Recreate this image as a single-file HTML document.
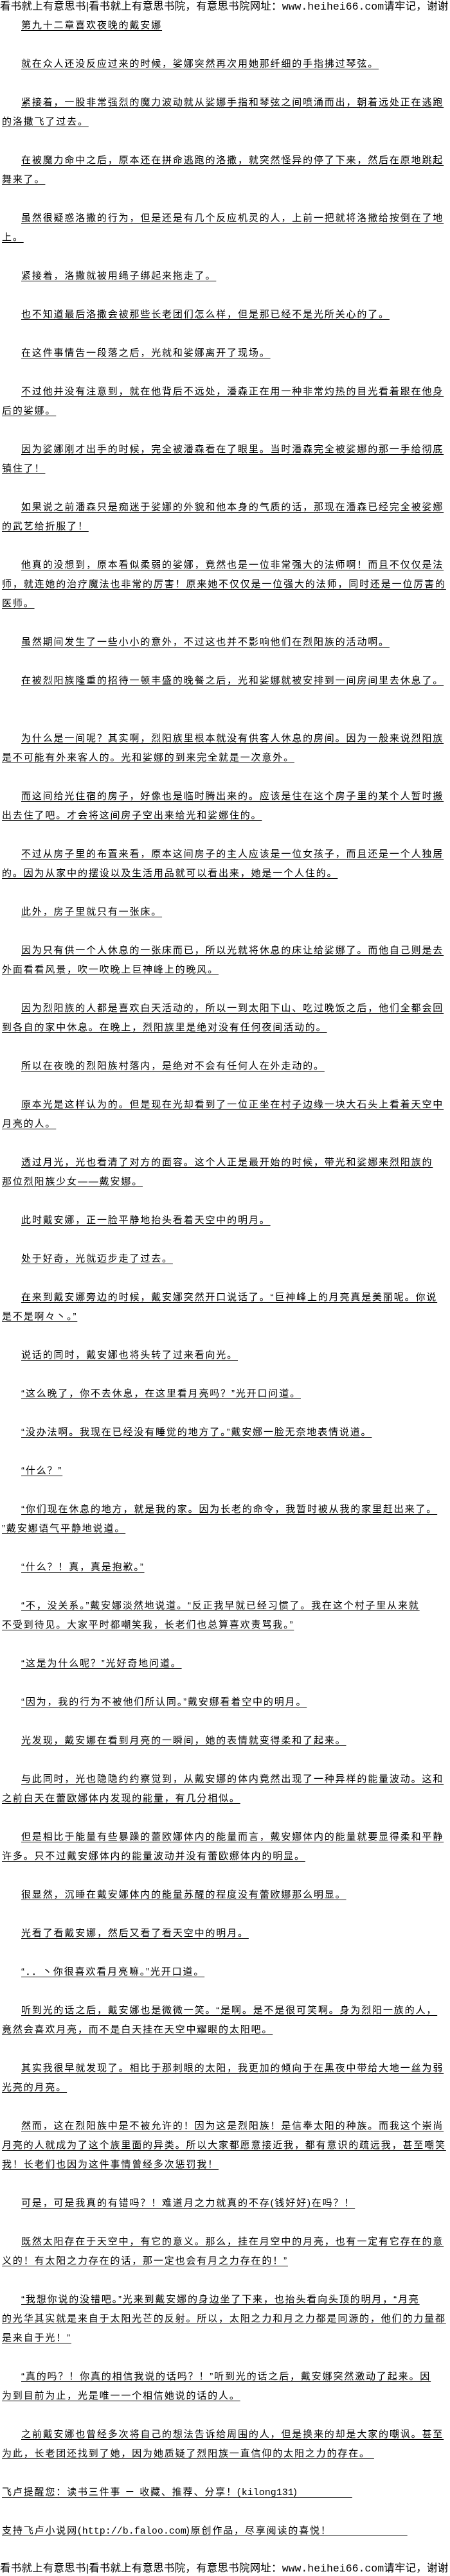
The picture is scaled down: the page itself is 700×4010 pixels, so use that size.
<!DOCTYPE html>
<html><head><meta charset="utf-8">
<style>
html,body{margin:0;padding:0;background:#fff;}
body{width:700px;height:4010px;position:relative;overflow:hidden;
font-family:"Liberation Sans","Noto Sans CJK SC","WenQuanYi Zen Hei",sans-serif;color:#000;}
.l{position:absolute;white-space:nowrap;font-size:15px;line-height:20px;letter-spacing:1.85px;}
.l span{text-decoration:underline;text-underline-offset:3px;text-decoration-thickness:1px;}
.i{left:33px}.c{left:3px}
.h{position:absolute;left:0;white-space:nowrap;font-size:16.5px;line-height:20px;width:700px;overflow:hidden;letter-spacing:0.2px;}
.m{font-family:"Liberation Mono",monospace;letter-spacing:0;}
</style></head><body>
<div class="h" style="top:0">看书就上有意思书|看书就上有意思书院，有意思书院网址：<span class="m">www.heihei66.com</span>请牢记，谢谢</div>
<div class="l i" style="top:30px"><span>第九十二章喜欢夜晚的戴安娜</span></div>
<div class="l i" style="top:90px"><span>就在众人还没反应过来的时候，娑娜突然再次用她那纤细的手指拂过琴弦。</span></div>
<div class="l i" style="top:150px"><span>紧接着，一股非常强烈的魔力波动就从娑娜手指和琴弦之间喷涌而出，朝着远处正在逃跑</span></div>
<div class="l c" style="top:180px"><span>的洛撒飞了过去。</span></div>
<div class="l i" style="top:240px"><span>在被魔力命中之后，原本还在拼命逃跑的洛撒，就突然怪异的停了下来，然后在原地跳起</span></div>
<div class="l c" style="top:270px"><span>舞来了。</span></div>
<div class="l i" style="top:330px"><span>虽然很疑惑洛撒的行为，但是还是有几个反应机灵的人，上前一把就将洛撒给按倒在了地</span></div>
<div class="l c" style="top:360px"><span>上。</span></div>
<div class="l i" style="top:420px"><span>紧接着，洛撒就被用绳子绑起来拖走了。</span></div>
<div class="l i" style="top:480px"><span>也不知道最后洛撒会被那些长老团们怎么样，但是那已经不是光所关心的了。</span></div>
<div class="l i" style="top:540px"><span>在这件事情告一段落之后，光就和娑娜离开了现场。</span></div>
<div class="l i" style="top:600px"><span>不过他并没有注意到，就在他背后不远处，潘森正在用一种非常灼热的目光看着跟在他身</span></div>
<div class="l c" style="top:630px"><span>后的娑娜。</span></div>
<div class="l i" style="top:690px"><span>因为娑娜刚才出手的时候，完全被潘森看在了眼里。当时潘森完全被娑娜的那一手给彻底</span></div>
<div class="l c" style="top:720px"><span>镇住了！</span></div>
<div class="l i" style="top:780px"><span>如果说之前潘森只是痴迷于娑娜的外貌和他本身的气质的话，那现在潘森已经完全被娑娜</span></div>
<div class="l c" style="top:810px"><span>的武艺给折服了！</span></div>
<div class="l i" style="top:870px"><span>他真的没想到，原本看似柔弱的娑娜，竟然也是一位非常强大的法师啊！而且不仅仅是法</span></div>
<div class="l c" style="top:900px"><span>师，就连她的治疗魔法也非常的厉害！原来她不仅仅是一位强大的法师，同时还是一位厉害的</span></div>
<div class="l c" style="top:930px"><span>医师。</span></div>
<div class="l i" style="top:990px"><span>虽然期间发生了一些小小的意外，不过这也并不影响他们在烈阳族的活动啊。</span></div>
<div class="l i" style="top:1050px"><span>在被烈阳族隆重的招待一顿丰盛的晚餐之后，光和娑娜就被安排到一间房间里去休息了。</span></div>
<div class="l i" style="top:1140px"><span>为什么是一间呢？其实啊，烈阳族里根本就没有供客人休息的房间。因为一般来说烈阳族</span></div>
<div class="l c" style="top:1170px"><span>是不可能有外来客人的。光和娑娜的到来完全就是一次意外。</span></div>
<div class="l i" style="top:1230px"><span>而这间给光住宿的房子，好像也是临时腾出来的。应该是住在这个房子里的某个人暂时搬</span></div>
<div class="l c" style="top:1260px"><span>出去住了吧。才会将这间房子空出来给光和娑娜住的。</span></div>
<div class="l i" style="top:1320px"><span>不过从房子里的布置来看，原本这间房子的主人应该是一位女孩子，而且还是一个人独居</span></div>
<div class="l c" style="top:1350px"><span>的。因为从家中的摆设以及生活用品就可以看出来，她是一个人住的。</span></div>
<div class="l i" style="top:1410px"><span>此外，房子里就只有一张床。</span></div>
<div class="l i" style="top:1470px"><span>因为只有供一个人休息的一张床而已，所以光就将休息的床让给娑娜了。而他自己则是去</span></div>
<div class="l c" style="top:1500px"><span>外面看看风景，吹一吹晚上巨神峰上的晚风。</span></div>
<div class="l i" style="top:1560px"><span>因为烈阳族的人都是喜欢白天活动的，所以一到太阳下山、吃过晚饭之后，他们全都会回</span></div>
<div class="l c" style="top:1590px"><span>到各自的家中休息。在晚上，烈阳族里是绝对没有任何夜间活动的。</span></div>
<div class="l i" style="top:1650px"><span>所以在夜晚的烈阳族村落内，是绝对不会有任何人在外走动的。</span></div>
<div class="l i" style="top:1710px"><span>原本光是这样认为的。但是现在光却看到了一位正坐在村子边缘一块大石头上看着天空中</span></div>
<div class="l c" style="top:1740px"><span>月亮的人。</span></div>
<div class="l i" style="top:1800px"><span>透过月光，光也看清了对方的面容。这个人正是最开始的时候，带光和娑娜来烈阳族的</span></div>
<div class="l c" style="top:1830px"><span>那位烈阳族少女——戴安娜。</span></div>
<div class="l i" style="top:1890px"><span>此时戴安娜，正一脸平静地抬头看着天空中的明月。</span></div>
<div class="l i" style="top:1950px"><span>处于好奇，光就迈步走了过去。</span></div>
<div class="l i" style="top:2010px"><span>在来到戴安娜旁边的时候，戴安娜突然开口说话了。“巨神峰上的月亮真是美丽呢。你说</span></div>
<div class="l c" style="top:2040px"><span>是不是啊々丶。”</span></div>
<div class="l i" style="top:2100px"><span>说话的同时，戴安娜也将头转了过来看向光。</span></div>
<div class="l i" style="top:2160px"><span>“这么晚了，你不去休息，在这里看月亮吗？”光开口问道。</span></div>
<div class="l i" style="top:2220px"><span>“没办法啊。我现在已经没有睡觉的地方了。”戴安娜一脸无奈地表情说道。</span></div>
<div class="l i" style="top:2280px"><span>“什么？”</span></div>
<div class="l i" style="top:2340px"><span>“你们现在休息的地方，就是我的家。因为长老的命令，我暂时被从我的家里赶出来了。</span></div>
<div class="l c" style="top:2370px"><span>”戴安娜语气平静地说道。</span></div>
<div class="l i" style="top:2430px"><span>“什么？！真，真是抱歉。”</span></div>
<div class="l i" style="top:2490px"><span>“不，没关系。”戴安娜淡然地说道。“反正我早就已经习惯了。我在这个村子里从来就</span></div>
<div class="l c" style="top:2520px"><span>不受到待见。大家平时都嘲笑我，长老们也总算喜欢责骂我。”</span></div>
<div class="l i" style="top:2580px"><span>“这是为什么呢？”光好奇地问道。</span></div>
<div class="l i" style="top:2640px"><span>“因为，我的行为不被他们所认同。”戴安娜看着空中的明月。</span></div>
<div class="l i" style="top:2700px"><span>光发现，戴安娜在看到月亮的一瞬间，她的表情就变得柔和了起来。</span></div>
<div class="l i" style="top:2760px"><span>与此同时，光也隐隐约约察觉到，从戴安娜的体内竟然出现了一种异样的能量波动。这和</span></div>
<div class="l c" style="top:2790px"><span>之前白天在蕾欧娜体内发现的能量，有几分相似。</span></div>
<div class="l i" style="top:2850px"><span>但是相比于能量有些暴躁的蕾欧娜体内的能量而言，戴安娜体内的能量就要显得柔和平静</span></div>
<div class="l c" style="top:2880px"><span>许多。只不过戴安娜体内的能量波动并没有蕾欧娜体内的明显。</span></div>
<div class="l i" style="top:2940px"><span>很显然，沉睡在戴安娜体内的能量苏醒的程度没有蕾欧娜那么明显。</span></div>
<div class="l i" style="top:3000px"><span>光看了看戴安娜，然后又看了看天空中的明月。</span></div>
<div class="l i" style="top:3060px"><span>“．．丶你很喜欢看月亮嘛。”光开口道。</span></div>
<div class="l i" style="top:3120px"><span>听到光的话之后，戴安娜也是微微一笑。“是啊。是不是很可笑啊。身为烈阳一族的人，</span></div>
<div class="l c" style="top:3150px"><span>竟然会喜欢月亮，而不是白天挂在天空中耀眼的太阳吧。</span></div>
<div class="l i" style="top:3210px"><span>其实我很早就发现了。相比于那刺眼的太阳，我更加的倾向于在黑夜中带给大地一丝为弱</span></div>
<div class="l c" style="top:3240px"><span>光亮的月亮。</span></div>
<div class="l i" style="top:3300px"><span>然而，这在烈阳族中是不被允许的！因为这是烈阳族！是信奉太阳的种族。而我这个崇尚</span></div>
<div class="l c" style="top:3330px"><span>月亮的人就成为了这个族里面的异类。所以大家都愿意接近我，都有意识的疏远我，甚至嘲笑</span></div>
<div class="l c" style="top:3360px"><span>我！长老们也因为这件事情曾经多次惩罚我！</span></div>
<div class="l i" style="top:3420px"><span>可是，可是我真的有错吗？！难道月之力就真的不存(钱好好)在吗？！</span></div>
<div class="l i" style="top:3480px"><span>既然太阳存在于天空中，有它的意义。那么，挂在月空中的月亮，也有一定有它存在的意</span></div>
<div class="l c" style="top:3510px"><span>义的！有太阳之力存在的话，那一定也会有月之力存在的！”</span></div>
<div class="l i" style="top:3570px"><span>“我想你说的没错吧。”光来到戴安娜的身边坐了下来，也抬头看向头顶的明月，“月亮</span></div>
<div class="l c" style="top:3600px"><span>的光华其实就是来自于太阳光芒的反射。所以，太阳之力和月之力都是同源的，他们的力量都</span></div>
<div class="l c" style="top:3630px"><span>是来自于光！”</span></div>
<div class="l i" style="top:3690px"><span>“真的吗？！你真的相信我说的话吗？！”听到光的话之后，戴安娜突然激动了起来。因</span></div>
<div class="l c" style="top:3720px"><span>为到目前为止，光是唯一一个相信她说的话的人。</span></div>
<div class="l i" style="top:3780px"><span>之前戴安娜也曾经多次将自己的想法告诉给周围的人，但是换来的却是大家的嘲讽。甚至</span></div>
<div class="l c" style="top:3810px"><span>为此，长老团还找到了她，因为她质疑了烈阳族一直信仰的太阳之力的存在。&nbsp;</span></div>
<div class="l c" style="top:3870px"><span>飞卢提醒您：读书三件事 － 收藏、推荐、分享！(<span class="m" style="text-decoration:inherit">kilong131</span>)　　　　　</span></div>
<div class="l c" style="top:3930px"><span>支持飞卢小说网(<span class="m" style="text-decoration:inherit">http://b.faloo.com</span>)原创作品，尽享阅读的喜悦！　　　　　　　</span></div>
<div class="h" style="top:3988px">看书就上有意思书|看书就上有意思书院，有意思书院网址：<span class="m">www.heihei66.com</span>请牢记，谢谢</div>
</body></html>
